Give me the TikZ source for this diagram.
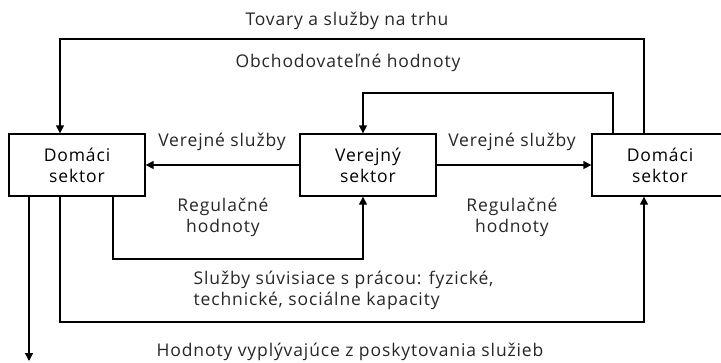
\documentclass[tikz,border=0pt]{standalone}
\usepackage{fontspec}
\setmainfont[LetterSpace=5]{Open Sans}
\usetikzlibrary{arrows.meta}
\begin{document}
\begin{tikzpicture}[x=1pt,y=-1pt,line width=1.3pt,
  >={Triangle[length=8pt,width=8pt]},
  font=\fontsize{17.5}{21}\selectfont,
  box/.style={draw,minimum width=136pt,minimum height=62pt,align=center,inner sep=0pt},
  lbl/.style={align=center,inner sep=0pt,text=black!85}]
\useasboundingbox (0,0) rectangle (721,362);
\clip (0,0) rectangle (721,362);
\node[box] (L) at (77,165) {Domáci\\sektor};
\node[box] (M) at (368,165) {Verejný\\sektor};
\node[box] (R) at (660,165) {Domáci\\sektor};
\coordinate (t1) at (644,39);
\coordinate (t2) at (60,39);
\coordinate (o1) at (613,93);
\coordinate (o2) at (363,93);
\coordinate (b1) at (113,259);
\coordinate (b2) at (363,259);
\coordinate (c1) at (60,322);
\coordinate (c2) at (644,322);
\coordinate (d) at (29,361);
\draw[->] (M.west) -- (L.east);
\draw[->] (M.east) -- (R.west);
\draw[->] (t1 |- R.north) -- (t1) -- (t2) -- (t2 |- L.north);
\draw[->] (o1 |- R.north) -- (o1) -- (o2) -- (o2 |- M.north);
\draw[->] (b1 |- L.south) -- (b1) -- (b2) -- (b2 |- M.south);
\draw[->] (c1 |- L.south) -- (c1) -- (c2) -- (c2 |- R.south);
\draw[->] (d |- L.south) -- (d);
\node[lbl] (n1) at (347,21) {Tovary a služby na trhu};
\node[lbl] (n2) at (348,63) {Obchodovateľné hodnoty};
\node[lbl] (n3) at (222,142) {Verejné služby};
\node[lbl] (n4) at (512,142) {Verejné služby};
\node[lbl] (n5) at (223,217) {Regulačné\\hodnoty};
\node[lbl] (n6) at (512,217) {Regulačné\\hodnoty};
\node[lbl,align=left,anchor=west] (n7) at (193,290) {Služby súvisiace s prácou: fyzické,\\technické, sociálne kapacity};
\node[lbl] (n8) at (350,352) {Hodnoty vyplývajúce z poskytovania služieb};
\end{tikzpicture}
\end{document}
